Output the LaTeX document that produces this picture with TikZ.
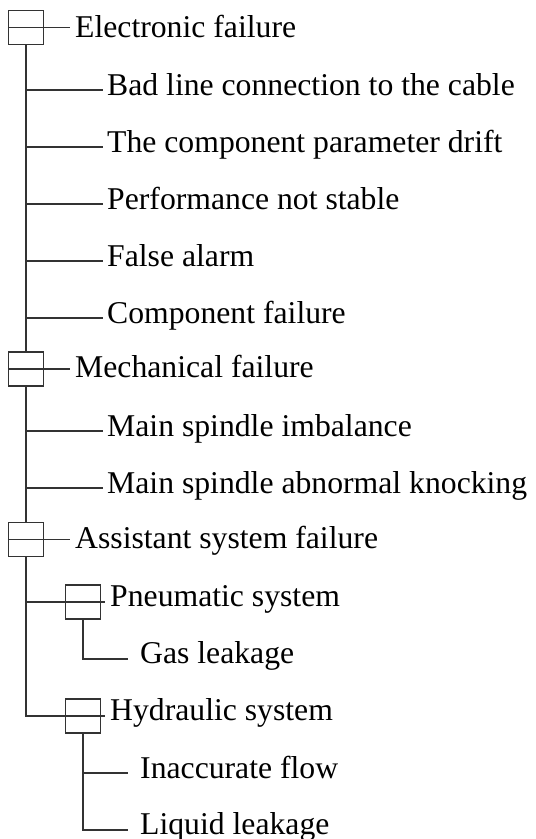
\documentclass[tikz,border=0pt]{standalone}
\usepackage{fontspec}
\setmainfont{Liberation Serif}
\begin{document}
\begin{tikzpicture}[x=1pt,y=-1pt,
  ln/.style={line width=1.2pt,draw=black!80},
  boxn/.style={draw=black!80,line width=1.2pt,minimum width=35pt,minimum height=34pt,inner sep=0pt},
  lbl/.style={anchor=base west,inner sep=0pt,font=\fontsize{31.7}{36}\selectfont}]
\useasboundingbox (0,0) rectangle (536,839);
% boxes
\node[boxn] (bE) at (26,27.5) {};
\node[boxn] (bM) at (26,369) {};
\node[boxn] (bA) at (26,539.5) {};
\node[boxn] (bP) at (83,602) {};
\node[boxn] (bH) at (83,716) {};
% labels
\node[lbl] (tE) at (75,37) {Electronic failure};
\node[lbl] (t1) at (107,95) {Bad line connection to the cable};
\node[lbl] (t2) at (107,152) {The component parameter drift};
\node[lbl] (t3) at (107,209) {Performance not stable};
\node[lbl] (t4) at (107,266) {False alarm};
\node[lbl] (t5) at (107,323) {Component failure};
\node[lbl] (tM) at (75,377.5) {Mechanical failure};
\node[lbl] (t6) at (107,436) {Main spindle imbalance};
\node[lbl] (t7) at (107,493) {Main spindle abnormal knocking};
\node[lbl] (tA) at (75,548) {Assistant system failure};
\node[lbl] (tP) at (110,606.5) {Pneumatic system};
\node[lbl] (t8) at (140,663.5) {Gas leakage};
\node[lbl] (tH) at (110,720.5) {Hydraulic system};
\node[lbl] (t9) at (140,778) {Inaccurate flow};
\node[lbl] (t10) at (140,834.5) {Liquid leakage};
% coordinates
\coordinate (eE) at (70,27.5);
\coordinate (e1) at (103,90);
\coordinate (e2) at (103,147);
\coordinate (e3) at (103,204);
\coordinate (e4) at (103,261);
\coordinate (e5) at (103,318);
\coordinate (eM) at (70,369);
\coordinate (e6) at (103,431);
\coordinate (e7) at (103,488);
\coordinate (eA) at (70,539.5);
\coordinate (eP) at (105,602);
\coordinate (e8) at (128,659);
\coordinate (eH) at (105,716);
\coordinate (e9) at (128,773);
\coordinate (e10) at (128,830);
% connectors
\draw[ln] (bE.west) -- (eE);
\draw[ln] (bM.west) -- (eM);
\draw[ln] (bA.west) -- (eA);
\draw[ln] (bE.south) -- (bM.north);
\foreach \e in {e1,e2,e3,e4,e5} \draw[ln] (bE.south |- \e) -- (\e);
\draw[ln] (bM.south) -- (bA.north);
\foreach \e in {e6,e7} \draw[ln] (bM.south |- \e) -- (\e);
\draw[ln] (bA.south) -- (bA.south |- eH) -- (eH);
\draw[ln] (bA.south |- eP) -- (eP);
\draw[ln] (bP.south) -- (bP.south |- e8) -- (e8);
\draw[ln] (bH.south) -- (bH.south |- e10) -- (e10);
\draw[ln] (bH.south |- e9) -- (e9);
\end{tikzpicture}
\end{document}
